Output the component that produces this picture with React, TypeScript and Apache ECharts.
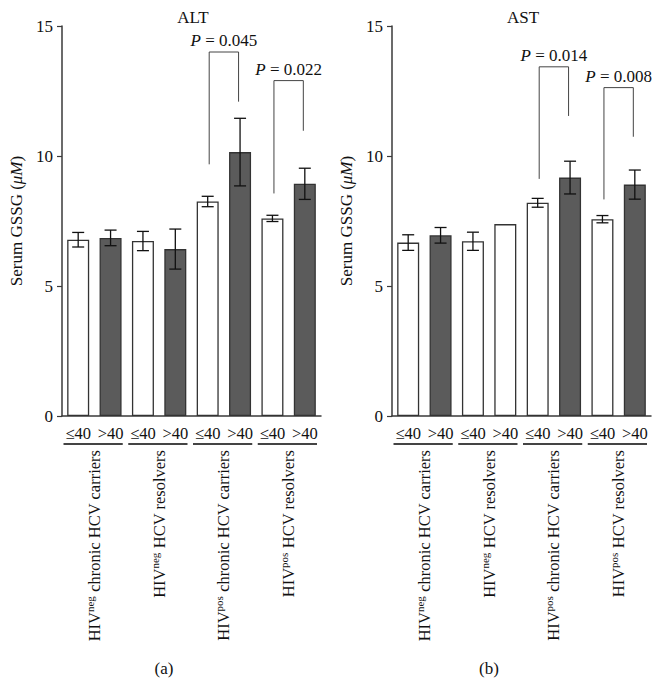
import React, { useEffect, useRef } from "react";
import * as echarts from "echarts";

const ageCategories = ["≤40", ">40", "≤40", ">40", "≤40", ">40", "≤40", ">40"];
const groupSup = ["neg", "neg", "pos", "pos"];
const groupRest = [" chronic HCV carriers", " HCV resolvers", " chronic HCV carriers", " HCV resolvers"];
const yTicks = [0, 5, 10, 15];

const altMeans = [6.78, 6.85, 6.73, 6.42, 8.25, 10.15, 7.6, 8.93];
const altErr = [0.28, 0.3, 0.37, 0.77, 0.2, 1.3, 0.12, 0.6];
const altDark = [0, 1, 0, 1, 0, 1, 0, 1];
const astMeans = [6.67, 6.95, 6.72, 7.38, 8.2, 9.17, 7.57, 8.9];
const astErr = [0.3, 0.3, 0.35, 0, 0.17, 0.63, 0.14, 0.56];
const astDark = [0, 1, 0, 0, 0, 1, 0, 1];

// bracket rows: [fromIdx, toIdx, leftLegBottom, top, rightLegBottom]
const altBrackets = [
  [4, 5, 9.68, 14.0, 12.09],
  [6, 7, 8.56, 12.9, 10.97],
];
const altP = ["0.045", "0.022"];
const astBrackets = [
  [4, 5, 9.12, 13.43, 11.54],
  [6, 7, 8.33, 12.63, 10.74],
];
const astP = ["0.014", "0.008"];

const FONT = "Liberation Serif";
const AXIS = "#3a3a3a";
const TEXT = "#111111";
const DARK = "#5b5b5b";

function panel(idx: number, means: number[], errs: number[], dark: number[], brackets: number[][], pvals: string[]) {
  const barData = means.map((v, i) => ({
    value: v,
    itemStyle: {
      color: dark[i] ? DARK : "#ffffff",
      borderColor: "#333333",
      borderWidth: 1.3,
    },
  }));
  const errData = means
    .map((v, i) => [i, v - errs[i], v + errs[i], errs[i]])
    .filter((d) => d[3] > 0);
  const groupData = groupSup.map((_, g) => [g * 2, g * 2 + 1, 0]);
  return [
    {
      type: "bar",
      xAxisIndex: idx,
      yAxisIndex: idx,
      barWidth: 22,
      data: barData,
      z: 2,
    },
    {
      type: "custom",
      xAxisIndex: idx,
      yAxisIndex: idx,
      data: errData,
      encode: { x: 0, y: [1, 2] },
      z: 5,
      renderItem: (params: any, api: any) => {
        const lo = api.coord([api.value(0), api.value(1)]);
        const hi = api.coord([api.value(0), api.value(2)]);
        const w = 6;
        const st = { stroke: "#111111", lineWidth: 1.3 };
        return {
          type: "group",
          children: [
            { type: "line", shape: { x1: lo[0], y1: lo[1], x2: hi[0], y2: hi[1] }, style: st },
            { type: "line", shape: { x1: lo[0] - w, y1: lo[1], x2: lo[0] + w, y2: lo[1] }, style: st },
            { type: "line", shape: { x1: hi[0] - w, y1: hi[1], x2: hi[0] + w, y2: hi[1] }, style: st },
          ],
        };
      },
    },
    {
      type: "custom",
      xAxisIndex: idx,
      yAxisIndex: idx,
      data: brackets,
      encode: { x: [0, 1], y: [2, 3, 4] },
      z: 5,
      renderItem: (params: any, api: any) => {
        const a = api.coord([api.value(0), api.value(2)]);
        const t1 = api.coord([api.value(0), api.value(3)]);
        const t2 = api.coord([api.value(1), api.value(3)]);
        const b = api.coord([api.value(1), api.value(4)]);
        const x1 = a[0] + 1.5;
        const x2 = b[0] - 1.5;
        return {
          type: "group",
          children: [
            {
              type: "polyline",
              shape: { points: [[x1, a[1]], [x1, t1[1]], [x2, t2[1]], [x2, b[1]]] },
              style: { stroke: "#444444", lineWidth: 1, fill: "none" },
            },
            {
              type: "text",
              x: (x1 + x2) / 2,
              y: t1[1] - 3,
              style: {
                text: "{i|P} = " + pvals[params.dataIndex],
                rich: { i: { fontStyle: "italic", fontSize: 17, fontFamily: FONT, fill: TEXT } },
                fontSize: 17,
                fontFamily: FONT,
                fill: TEXT,
                align: "center",
                verticalAlign: "bottom",
              },
            },
          ],
        };
      },
    },
    {
      type: "custom",
      xAxisIndex: idx,
      yAxisIndex: idx,
      data: groupData,
      encode: { x: [0, 1], y: 2 },
      z: 5,
      renderItem: (params: any, api: any) => {
        const s = api.coord([api.value(0), api.value(2)]);
        const e = api.coord([api.value(1), api.value(2)]);
        const bw = api.size([1, 0])[0];
        const xs = s[0] - bw / 2 + 1.5;
        const xe = e[0] + bw / 2 - 4;
        const y = s[1] + 28;
        const g = params.dataIndex;
        return {
          type: "group",
          children: [
            { type: "line", shape: { x1: xs, y1: y, x2: xe, y2: y }, style: { stroke: "#444444", lineWidth: 1.8 } },
            {
              type: "text",
              x: (s[0] + e[0]) / 2,
              y: y + 6,
              rotation: Math.PI / 2,
              style: {
                text: "{n|HIV}{s|" + groupSup[g] + "}{n|" + groupRest[g] + "}",
                rich: {
                  n: { fontSize: 16.5, fontFamily: FONT, fill: TEXT, lineHeight: 20 },
                  s: { fontSize: 11, fontFamily: FONT, fill: TEXT, verticalAlign: "top" },
                },
                align: "right",
                verticalAlign: "middle",
              },
            },
          ],
        };
      },
    },
  ];
}

export default function App() {
  const ref = useRef<HTMLDivElement>(null);
  useEffect(() => {
    if (!ref.current) return;
    const chart = echarts.init(ref.current, null, { renderer: "svg" });
    const mkX = (gi: number) => ({
      type: "category",
      gridIndex: gi,
      data: ageCategories,
      boundaryGap: true,
      axisLine: { lineStyle: { color: AXIS, width: 1.5 } },
      axisTick: { alignWithLabel: true, length: 4, lineStyle: { color: AXIS, width: 1.2 } },
      axisLabel: { fontSize: 16.5, fontFamily: FONT, color: TEXT, margin: 9, interval: 0 },
    });
    const mkY = (gi: number) => ({
      type: "value",
      gridIndex: gi,
      min: yTicks[0],
      max: yTicks[yTicks.length - 1],
      interval: 5,
      splitLine: { show: false },
      axisLine: { show: true, lineStyle: { color: AXIS, width: 1.5 } },
      axisTick: { show: true, length: 5, lineStyle: { color: AXIS, width: 1.2 } },
      axisLabel: { fontSize: 17, fontFamily: FONT, color: TEXT, margin: 9 },
      name: "Serum GSSG ({i|μM})",
      nameLocation: "middle",
      nameGap: 37,
      nameRotate: 90,
      nameTextStyle: {
        fontSize: 17,
        fontFamily: FONT,
        color: TEXT,
        rich: { i: { fontStyle: "italic", fontSize: 17, fontFamily: FONT, color: TEXT } },
      },
    });
    chart.setOption({
      animation: false,
      backgroundColor: "#ffffff",
      grid: [
        { left: 62, top: 26, width: 259, height: 390 },
        { left: 392, top: 26, width: 259, height: 390 },
      ],
      xAxis: [mkX(0), mkX(1)],
      yAxis: [mkY(0), mkY(1)],
      graphic: [
        { type: "text", x: 193, y: 17, style: { text: "ALT", fontSize: 17, fontFamily: FONT, fill: TEXT, align: "center", verticalAlign: "middle" } },
        { type: "text", x: 523, y: 17, style: { text: "AST", fontSize: 17, fontFamily: FONT, fill: TEXT, align: "center", verticalAlign: "middle" } },
        { type: "text", x: 164, y: 668, style: { text: "(a)", fontSize: 17, fontFamily: FONT, fill: TEXT, align: "center", verticalAlign: "middle" } },
        { type: "text", x: 489, y: 668, style: { text: "(b)", fontSize: 17, fontFamily: FONT, fill: TEXT, align: "center", verticalAlign: "middle" } },
      ],
      series: [
        ...panel(0, altMeans, altErr, altDark, altBrackets, altP),
        ...panel(1, astMeans, astErr, astDark, astBrackets, astP),
      ],
    } as any);
    return () => chart.dispose();
  }, []);
  return (
    <div
      ref={ref}
      style={{ position: "fixed", left: 0, top: 0, width: 663, height: 685, background: "#fff" }}
    />
  );
}
